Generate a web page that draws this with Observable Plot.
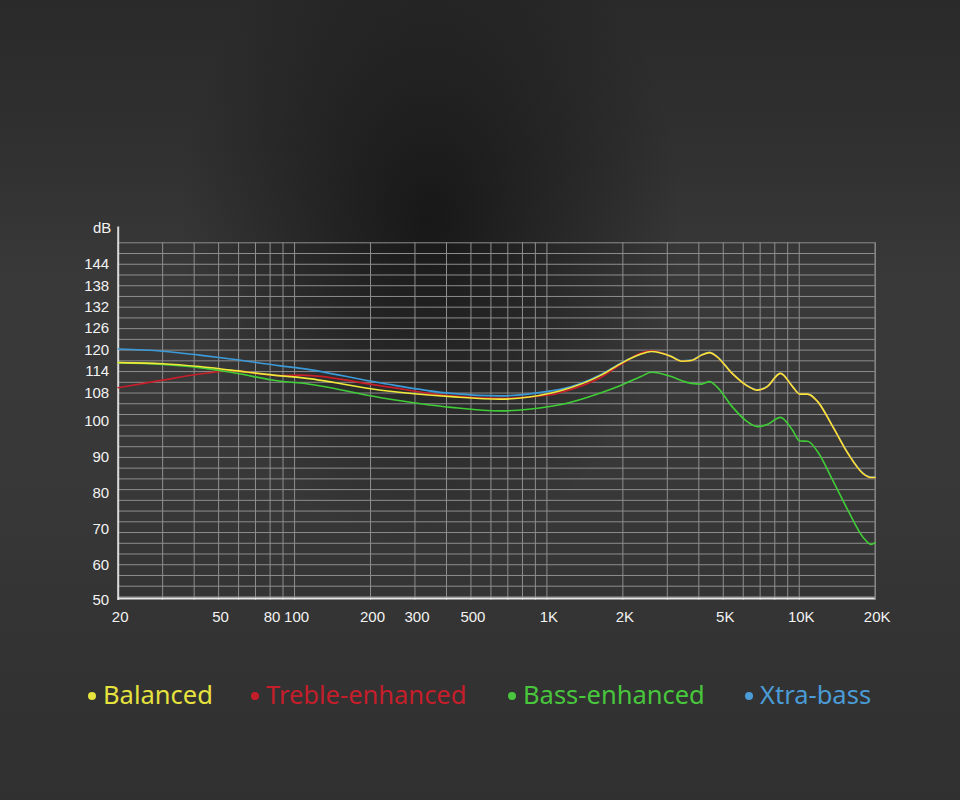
<!DOCTYPE html>
<html>
<head>
<meta charset="utf-8">
<script src="https://cdn.jsdelivr.net/npm/d3@7"></script>
<script src="https://cdn.jsdelivr.net/npm/@observablehq/plot@0.6"></script>
<style>
  html, body { margin: 0; padding: 0; }
  body {
    width: 960px; height: 800px; overflow: hidden; position: relative;
    background:
      radial-gradient(ellipse 250px 330px at 430px 220px, rgba(22,22,22,0.95) 0%, rgba(26,26,26,0.6) 45%, rgba(30,30,30,0) 100%),
      linear-gradient(#2a2a2a 0%, #303030 18%, #393939 35%, #383838 60%, #333 80%, #303030 100%);
  }
  #chart { position: absolute; left: 0; top: 0; }
  #legend { position: absolute; left: 0; top: 640px; width: 960px; height: 160px; font-family: "Noto Sans", "Open Sans", sans-serif; font-size: 25.5px; }
  .item { position: absolute; top: 36px; display: flex; align-items: center; height: 36px; white-space: nowrap; }
  .dot { width: 8px; height: 8px; border-radius: 50%; margin-right: 7px; margin-top: 3px; }
</style>
</head>
<body>
<div id="chart"></div>
<div id="legend"></div>
<script>
// ---- data ----
const freqs     = [20, 30, 42, 56, 88, 106, 220, 417, 652, 1040, 1140, 1640, 1970, 2360, 2590, 3110, 3410, 3740, 4100, 4410, 4710, 5420, 6220, 6820, 7470, 8420, 9410, 10040, 10800, 11830, 13580, 15600, 17900, 19250, 20000];
const balanced  = [116.5, 116.2, 115.4, 114.4, 112.8, 112.3, 108.8, 107.0, 106.3, 108.0, 108.7, 113.0, 116.3, 118.9, 119.6, 118.2, 116.9, 117.1, 118.6, 119.3, 118.2, 113.5, 110.0, 108.8, 109.8, 113.5, 109.8, 107.7, 107.7, 105.6, 98.6, 91.1, 85.5, 84.4, 84.4];
const treble    = [109.5, 111.6, 113.3, 114.2, 112.9, 113.0, 110.0, 107.2, 106.5, 107.5, 108.2, 112.4, 116.0, 119.2, 119.8, 118.2, 116.9, 117.1, 118.6, 119.3, 118.2, 113.5, 110.0, 108.8, 109.8, 113.5, 109.8, 107.7, 107.7, 105.6, 98.6, 91.1, 85.5, 84.4, 84.4];
const bass      = [116.5, 116.0, 115.1, 113.8, 111.3, 110.8, 106.7, 104.0, 103.0, 104.3, 104.8, 108.1, 110.2, 112.6, 113.8, 112.6, 111.5, 110.7, 110.5, 111.2, 109.8, 104.2, 100.0, 98.6, 99.2, 101.2, 97.6, 94.6, 94.5, 91.6, 83.6, 75.2, 67.7, 65.7, 66.2];
const xtraBass  = [120.3, 119.7, 118.6, 117.5, 115.6, 114.9, 110.8, 107.9, 107.2, 108.6, 109.1, 113.2, 116.4, 119.0, 119.7, 118.3, 117.0, 117.2, 118.7, 119.4, 118.3, 113.6, 110.1, 108.9, 109.9, 113.6, 109.9, 107.8, 107.8, 105.7, 98.7, 91.2, 85.6, 84.5, 84.5];

const seriesNames  = ["Balanced", "Treble-enhanced", "Bass-enhanced", "Xtra-bass"];
const seriesColors = ["#f0e93a", "#c81f2a", "#3fcc36", "#3d9ad8"];
const legendColors = ["#e6e23e", "#c41e2b", "#48c63c", "#4a9bd6"];

const xTickValues = [20, 50, 80, 100, 200, 300, 500, 1000, 2000, 5000, 10000, 20000];
const xTickLabels = ["20", "50", "80", "100", "200", "300", "500", "1K", "2K", "5K", "10K", "20K"];
const yTickValues = [50, 60, 70, 80, 90, 100, 108, 114, 120, 126, 132, 138, 144];

// ---- derived ----
const valuesBySeries = [balanced, treble, bass, xtraBass];
const rows = [];
valuesBySeries.forEach((vals, i) => {
  freqs.forEach((f, j) => rows.push({series: seriesNames[i], f, v: vals[j]}));
});
const drawOrder = ["Xtra-bass", "Treble-enhanced", "Bass-enhanced", "Balanced"];

const xGrid = [];
for (let dec = 10; dec <= 10000; dec *= 10) {
  for (let k = 1; k <= 9; k++) { const v = k * dec; if (v >= 20 && v <= 20000) xGrid.push(v); }
}
xGrid.push(20000);
const yGrid = d3.range(150, 50, -3);

const xTicks = xTickValues.map((v, i) => ({v, label: xTickLabels[i]}));

const plot = Plot.plot({
  width: 960,
  height: 640,
  marginLeft: 117.7,
  marginRight: 85.3,
  marginTop: 242.3,
  marginBottom: 40,
  x: {type: "log", domain: [20, 20000], axis: null},
  y: {domain: [50, 150], axis: null},
  style: {background: "transparent", color: "#f0f0f0", fontFamily: "'Liberation Sans', Arial, sans-serif", fontSize: "14px", overflow: "visible"},
  marks: [
    Plot.ruleX(xGrid, {stroke: "#8e8e8e", strokeWidth: 1}),
    Plot.ruleY(yGrid, {stroke: "#8e8e8e", strokeWidth: 1}),
    Plot.ruleX([20], {y1: 50, y2: 154.4, stroke: "#d9d9d9", strokeWidth: 2}),
    Plot.ruleY([50], {stroke: "#e6e6e6", strokeWidth: 2, dy: -2}),
    Plot.text(xTicks, {x: "v", text: "label", frameAnchor: "bottom", lineAnchor: "top", dy: 11, dx: 2, fontSize: 15, fill: "#f2f2f2"}),
    Plot.axisY(yTickValues, {tickSize: 0, tickPadding: 9, fontSize: 15, fill: "#f2f2f2", label: null}),
    Plot.text(["dB"], {x: 20, y: 154.1, dx: -16, text: d => d, fontSize: 15, fill: "#f2f2f2"}),
    ...drawOrder.map(name => Plot.line(rows.filter(r => r.series === name), {
      x: "f", y: "v", stroke: seriesColors[seriesNames.indexOf(name)], strokeWidth: 1.6, curve: "monotone-x"
    }))
  ]
});
document.getElementById("chart").appendChild(plot);

// legend
const legendLefts = [88, 251, 508, 745];
const legend = document.getElementById("legend");
seriesNames.forEach((name, i) => {
  const item = document.createElement("div");
  item.className = "item";
  item.style.left = legendLefts[i] + "px";
  item.style.color = legendColors[i];
  const dot = document.createElement("span");
  dot.className = "dot";
  dot.style.background = legendColors[i];
  const label = document.createElement("span");
  label.textContent = name;
  item.appendChild(dot);
  item.appendChild(label);
  legend.appendChild(item);
});
</script>
</body>
</html>
